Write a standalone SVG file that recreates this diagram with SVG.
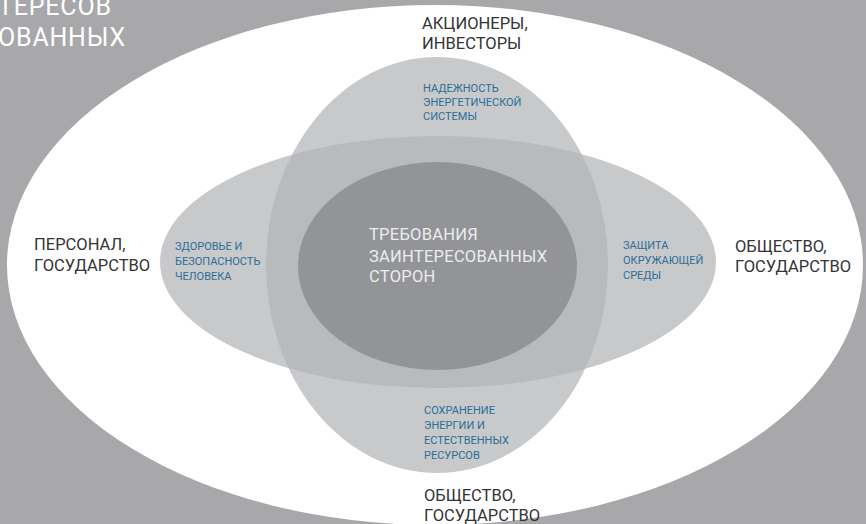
<svg xmlns="http://www.w3.org/2000/svg" width="866" height="524" viewBox="0 0 866 524">
<style>
text{font-family:Roboto,"Liberation Sans",sans-serif}
.dark{fill:#333436;font-size:16.5px}
.blue{fill:#2b6e98;font-size:11px}
.ctr{fill:#ececec;font-size:16.5px;letter-spacing:0.25px}
.corner{fill:#ffffff;font-size:25px;letter-spacing:0.8px}
.ring{fill:#b3b4b7;fill-opacity:0.72}
</style>
<rect width="866" height="524" fill="#a8a8ab"/>
<g id="corner-title">
<text class="corner" x="-2" y="15">ТЕРЕСОВ</text>
<text class="corner" x="-2" y="46">ОВАННЫХ</text>
</g>
<g id="outer">
<ellipse cx="435" cy="265" rx="428" ry="260" fill="#ffffff"/>
</g>
<g id="vertical">
<ellipse class="ring" cx="437" cy="265" rx="171" ry="208"/>
</g>
<g id="horizontal">
<ellipse class="ring" cx="438" cy="262" rx="278" ry="126"/>
</g>
<g id="center">
<ellipse cx="437.5" cy="266" rx="139.5" ry="104" fill="#939497"/>
<text class="ctr" x="369" y="240">ТРЕБОВАНИЯ</text>
<text class="ctr" x="369" y="262">ЗАИНТЕРЕСОВАННЫХ</text>
<text class="ctr" x="369" y="282">СТОРОН</text>
</g>
<g id="connectors"></g>
<g id="top-label">
<text class="dark" x="422" y="29">АКЦИОНЕРЫ,</text>
<text class="dark" x="422" y="49">ИНВЕСТОРЫ</text>
</g>
<g id="top-inner">
<text class="blue" x="423" y="92">НАДЕЖНОСТЬ</text>
<text class="blue" x="423" y="106">ЭНЕРГЕТИЧЕСКОЙ</text>
<text class="blue" x="423" y="120">СИСТЕМЫ</text>
</g>
<g id="left-label">
<text class="dark" x="34" y="250">ПЕРСОНАЛ,</text>
<text class="dark" x="34" y="271">ГОСУДАРСТВО</text>
</g>
<g id="left-inner">
<text class="blue" x="175" y="250">ЗДОРОВЬЕ И</text>
<text class="blue" x="175" y="265">БЕЗОПАСНОСТЬ</text>
<text class="blue" x="175" y="280">ЧЕЛОВЕКА</text>
</g>
<g id="right-inner">
<text class="blue" x="623" y="249">ЗАЩИТА</text>
<text class="blue" x="623" y="264">ОКРУЖАЮЩЕЙ</text>
<text class="blue" x="623" y="279">СРЕДЫ</text>
</g>
<g id="right-label">
<text class="dark" x="735" y="252">ОБЩЕСТВО,</text>
<text class="dark" x="735" y="272">ГОСУДАРСТВО</text>
</g>
<g id="bottom-inner">
<text class="blue" x="424" y="414">СОХРАНЕНИЕ</text>
<text class="blue" x="424" y="429">ЭНЕРГИИ И</text>
<text class="blue" x="424" y="444">ЕСТЕСТВЕННЫХ</text>
<text class="blue" x="424" y="459">РЕСУРСОВ</text>
</g>
<g id="bottom-label">
<text class="dark" x="424" y="501">ОБЩЕСТВО,</text>
<text class="dark" x="424" y="521">ГОСУДАРСТВО</text>
</g>
</svg>
